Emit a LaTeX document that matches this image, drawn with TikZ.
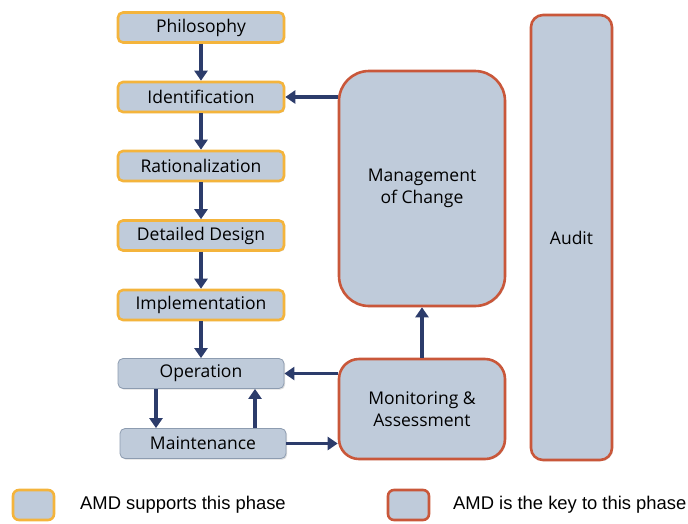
\documentclass[tikz,border=0pt]{standalone}
\usepackage{fontspec}
\setmainfont{Open Sans}
\newfontfamily\legendfont{Liberation Sans}
\usepackage{tikz}
\usetikzlibrary{arrows.meta,shadows}

\definecolor{boxfill}{HTML}{BFCBDA}
\definecolor{supportline}{HTML}{F4B43C}
\definecolor{keyline}{HTML}{C9573A}
\definecolor{plainline}{HTML}{8D9CB0}
\definecolor{flowcol}{HTML}{2C3C6B}

\tikzset{
  phasebox/.style={draw=supportline, line width=2.6pt, fill=boxfill, rounded corners=5pt,
    minimum width=166pt, minimum height=30pt, inner sep=0pt, font=\fontsize{17.5}{21}\selectfont,
    drop shadow={shadow xshift=1.2pt, shadow yshift=-1.2pt, opacity=0.25}},
  plainbox/.style={phasebox, draw=plainline, line width=0.8pt},
  keybox/.style={draw=keyline, line width=2.6pt, fill=boxfill, inner sep=0pt, align=center,
    minimum width=166pt, font=\fontsize{17.5}{22}\selectfont,
    drop shadow={shadow xshift=1.2pt, shadow yshift=-1.2pt, opacity=0.25}},
  flow/.style={draw=flowcol, line width=3.4pt, -{Triangle[length=10pt,width=13pt]}},
  legendbox/.style={fill=boxfill, line width=2.6pt, rounded corners=6pt,
    minimum width=41pt, minimum height=30pt, inner sep=0pt},
  legendtext/.style={anchor=west, inner sep=0pt, font=\legendfont\fontsize{18.4}{21}\selectfont}
}

\begin{document}
\begin{tikzpicture}[x=1pt,y=-1pt]
\useasboundingbox (0,0) rectangle (688,523);

% phases
\path (201,27.5) node (philosophy) [phasebox] {Philosophy};
\path (201,97) node (identification) [phasebox] {Identification};
\path (201,166) node (rationalization) [phasebox] {Rationalization};
\path (201,235.5) node (design) [phasebox] {Detailed Design};
\path (201,305) node (implementation) [phasebox] {Implementation};
\path (201,373.5) node (operation) [plainbox] {Operation};
\path (203,443.5) node (maintenance) [plainbox] {Maintenance};

% key phases
\path (422,188.5) node (management) [keybox, rounded corners=30pt, minimum height=235pt] {Management\\of Change};
\path (422,409) node (monitoring) [keybox, rounded corners=20pt, minimum height=100pt] {Monitoring \&\\Assessment};
\path (571.5,237.5) node (audit) [keybox, rounded corners=12pt, minimum width=81pt, minimum height=445pt] {Audit};

% flow
\draw[flow] (philosophy) -- (identification);
\draw[flow] (identification) -- (rationalization);
\draw[flow] (rationalization) -- (design);
\draw[flow] (design) -- (implementation);
\draw[flow] (implementation) -- (operation);
\draw[flow] ([xshift=-45pt]operation.south) -- ([xshift=-47pt]maintenance.north);
\draw[flow] ([xshift=52pt]maintenance.north) -- ([xshift=54pt]operation.south);
\draw[flow] (management.west |- identification) -- (identification.east);
\draw[flow] (monitoring.west |- operation) -- (operation.east);
\draw[flow] (maintenance.east) -- (monitoring.west |- maintenance);
\draw[flow] (monitoring.north) -- (management.south);

% legend
\path (33.5,505) node (supportkey) [legendbox, draw=supportline] {};
\path (80,505) node (supporttext) [legendtext] {AMD supports this phase};
\path (408.5,505) node (keykey) [legendbox, draw=keyline] {};
\path (453,505) node (keytext) [legendtext] {AMD is the key to this phase};
\end{tikzpicture}
\end{document}
